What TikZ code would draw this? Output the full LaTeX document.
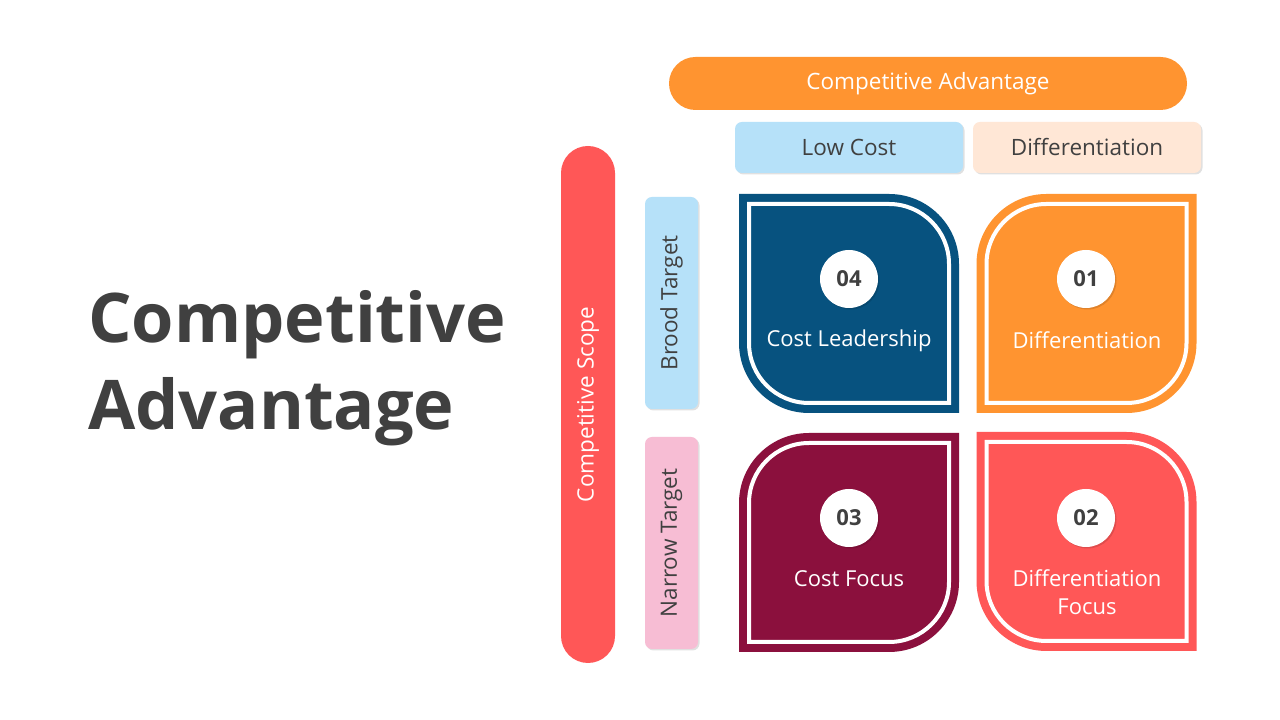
\documentclass[tikz,border=0pt]{standalone}
\usepackage{fontspec}
\setmainfont{Open Sans}
\usetikzlibrary{shadows}
\definecolor{cdblue}{HTML}{07527F}
\definecolor{corange}{HTML}{FF9430}
\definecolor{cmaroon}{HTML}{8B103D}
\definecolor{ccoral}{HTML}{FF5757}
\definecolor{clblue}{HTML}{B6E1F9}
\definecolor{cpeach}{HTML}{FFE7D6}
\definecolor{cpink}{HTML}{F7BDD4}
\definecolor{ctext}{HTML}{404040}
\tikzset{
  softshadow/.style={drop shadow={shadow xshift=1.5pt,shadow yshift=-1.5pt,opacity=0.12,fill=black}},
  pillbox/.style={rectangle,rounded corners=26.5pt,inner sep=0pt,text=white,
    font=\fontsize{22.5}{27}\selectfont},
  labelbox/.style={rectangle,rounded corners=7pt,inner sep=0pt,text=ctext,softshadow,
    font=\fontsize{22.5}{27}\selectfont},
  numcircle/.style={circle,fill=white,minimum size=58pt,inner sep=0pt,text=ctext,softshadow,
    font=\bfseries\fontsize{22}{26}\selectfont},
  quadlabel/.style={text=white,align=center,inner sep=0pt,
    font=\fontsize{22}{28}\selectfont},
  titletext/.style={text=ctext,inner sep=0pt,font=\bfseries\fontsize{68.5}{84}\selectfont},
  leafA/.pic={% rounded top-right and bottom-left
    \fill[pic actions] (-110,109.5) -- (40,109.5) arc[start angle=90,end angle=0,radius=70]
      -- (110,-109.5) -- (-40,-109.5) arc[start angle=270,end angle=180,radius=70] -- cycle;
    \draw[white,line width=4pt] (-100,99.5) -- (40,99.5) arc[start angle=90,end angle=0,radius=60]
      -- (100,-99.5) -- (-40,-99.5) arc[start angle=270,end angle=180,radius=60] -- cycle;
  },
  leafB/.pic={% rounded top-left and bottom-right
    \fill[pic actions] (-40,109.5) -- (110,109.5) -- (110,-39.5) arc[start angle=0,end angle=-90,radius=70]
      -- (-110,-109.5) -- (-110,39.5) arc[start angle=180,end angle=90,radius=70] -- cycle;
    \draw[white,line width=4pt] (-40,99.5) -- (100,99.5) -- (100,-39.5) arc[start angle=0,end angle=-90,radius=60]
      -- (-100,-99.5) -- (-100,39.5) arc[start angle=180,end angle=90,radius=60] -- cycle;
  },
}
\begin{document}
\begin{tikzpicture}[x=1pt,y=1pt]
\useasboundingbox (0,0) rectangle (1280,720);
\fill[white] (0,0) rectangle (1280,720);

% title
\node[titletext,anchor=base west] (title1) at (88,377) {Competitive};
\node[titletext,anchor=base west] (title2) at (88,290) {Advantage};

% top header
\node[pillbox,fill=corange,minimum width=518pt,minimum height=53pt] (advantage) at (928,636.5) {\raisebox{-1.5pt}{Competitive Advantage}};
\node[labelbox,fill=clblue,minimum width=228pt,minimum height=51pt] (lowcost) at (849,572.5) {\raisebox{-1pt}{Low Cost}};
\node[labelbox,fill=cpeach,minimum width=228pt,minimum height=51pt] (diffhead) at (1087,572.5) {\raisebox{-1pt}{Differentiation}};

% left side
\node[pillbox,fill=ccoral,minimum width=517pt,minimum height=54pt,rounded corners=27pt,rotate=90] (scope) at (588,315.5) {Competitive Scope};
\node[labelbox,fill=clblue,minimum width=212pt,minimum height=53pt,rotate=90] (brood) at (671.5,417) {Brood Target};
\node[labelbox,fill=cpink,minimum width=212pt,minimum height=53pt,rotate=90] (narrow) at (671.5,177) {Narrow Target};

% quadrants
\pic[fill=cdblue] at (849,416.5) {leafA};
\pic[fill=corange] at (1086.5,416.5) {leafB};
\pic[fill=cmaroon] at (849,177.5) {leafB};
\pic[fill=ccoral] at (1086.5,178.5) {leafA};

\node[numcircle] (n04) at (849,441) {04};
\node[numcircle] (n01) at (1086,441) {01};
\node[numcircle] (n03) at (849,202) {03};
\node[numcircle] (n02) at (1086,202) {02};

\node[quadlabel] (q04) at (849,379) {Cost Leadership};
\node[quadlabel] (q01) at (1087,380) {Differentiation};
\node[quadlabel] (q03) at (849,141) {Cost Focus};
\node[quadlabel] (q02) at (1087,128) {Differentiation\\Focus};
\end{tikzpicture}
\end{document}
